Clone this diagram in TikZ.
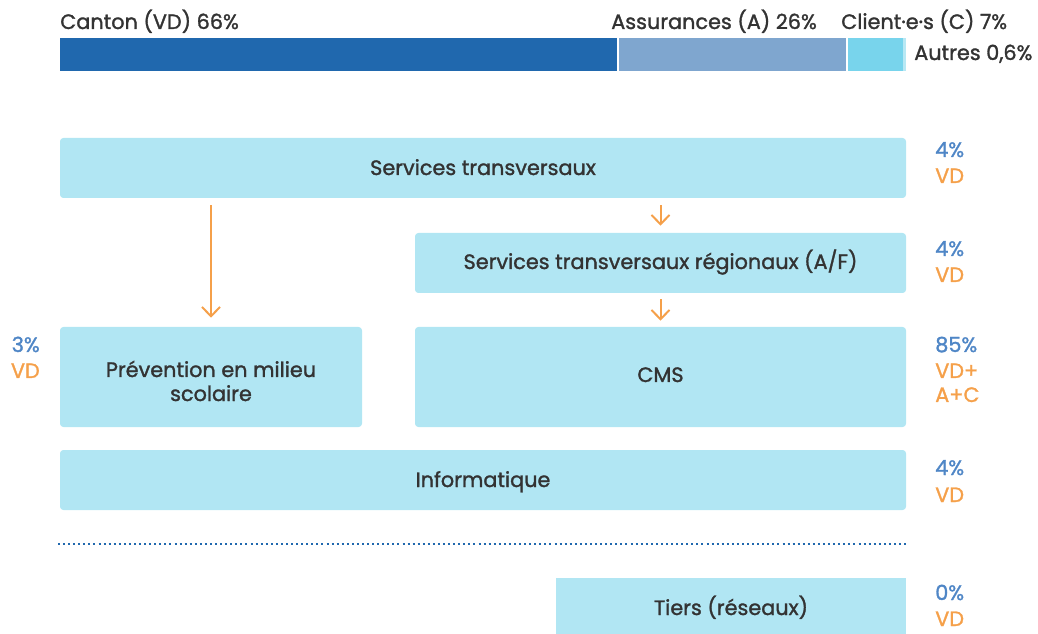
\documentclass[tikz,border=0pt]{standalone}
\usepackage{fontspec}
\setmainfont{Poppins}[RawFeature={embolden=1.4}]
\usetikzlibrary{arrows.meta}
\definecolor{darkblue}{HTML}{2068AE}
\definecolor{midblue}{HTML}{7FA6CF}
\definecolor{lightcyan}{HTML}{78D4EC}
\definecolor{othercyan}{HTML}{B8E8F4}
\definecolor{boxfill}{HTML}{B1E6F3}
\definecolor{txt}{HTML}{333333}
\definecolor{pctblue}{HTML}{4F86C6}
\definecolor{pctorange}{HTML}{F5A04A}
\begin{document}
\begin{tikzpicture}[x=0.75pt,y=-0.75pt,
  lbl/.style={text=txt, font=\fontsize{15.6}{18}\selectfont, inner sep=0pt},
  bx/.style 2 args={fill=boxfill, rounded corners=2.5pt, inner sep=0pt,
     minimum width=#1*0.75pt, minimum height=#2*0.75pt},
  btxt/.style={text=txt, font=\fontsize{15.6}{18}\selectfont, inner sep=0pt, anchor=base},
  pb/.style={text=pctblue, font=\fontsize{15.6}{18}\selectfont, inner sep=0pt, anchor=base west},
  po/.style={text=pctorange, font=\fontsize{15.6}{18}\selectfont, inner sep=0pt, anchor=base west},
  arr/.style={draw=pctorange, line width=1.5pt, -{Straight Barb[length=7pt,width=13.5pt,line width=1.5pt]}}
]
\useasboundingbox (0,0) rectangle (1038,634);
% stacked bar
\fill[darkblue] (60,38) rectangle (617,71);
\fill[midblue] (619,38) rectangle (846,71);
\fill[lightcyan] (848,38) rectangle (903,71);
\fill[othercyan] (903,38) rectangle (906,71);
\node[lbl, anchor=base west] (lcanton) at (60,29) {Canton (VD) 66\%};
\node[lbl, anchor=base west] (lass) at (611,29) {Assurances (A) 26\%};
\node[lbl, anchor=base west] (lcli) at (841,29) {Client·e·s (C) 7\%};
\node[lbl, anchor=base west] (laut) at (914,60) {Autres 0,6\%};
% boxes
\node[bx={846}{60}] (st) at (483,168) {};
\node[btxt] (tst) at (483,175) {Services transversaux};
\node[bx={491}{60}] (str) at (660.5,263) {};
\node[btxt] (tstr) at (660.5,269) {Services transversaux régionaux (A/F)};
\node[bx={302}{100}] (prev) at (211,377) {};
\node[btxt] (tprev1) at (211,377) {Prévention en milieu};
\node[btxt] (tprev2) at (211,401) {scolaire};
\node[bx={491}{100}] (cms) at (660.5,377) {};
\node[btxt] (tcms) at (660.5,382) {CMS};
\node[bx={846}{60}] (info) at (483,480) {};
\node[btxt] (tinfo) at (483,487) {Informatique};
\fill[boxfill] (556,578) rectangle (906,634);
\node[btxt] (tiers) at (731,615) {Tiers (réseaux)};
% arrows
\draw[arr, shorten <=5.25pt, shorten >=6.75pt] (st.south -| prev.north) -- (prev.north);
\draw[arr, shorten <=5.25pt, shorten >=5.25pt] (st.south -| str.north) -- (str.north);
\draw[arr, shorten <=4.5pt, shorten >=4.5pt] (str.south) -- (cms.north);
% dotted separator
\draw[darkblue, line width=1.6pt, dash pattern=on 1.5pt off 2.3pt] (58,544) -- (906,544);
% percentages
\node[pb] (p1a) at (935,157) {4\%};
\node[po] (p1b) at (935,183) {VD};
\node[pb] (p2a) at (935,256) {4\%};
\node[po] (p2b) at (935,282) {VD};
\node[pb] (p3a) at (935,352) {85\%};
\node[po] (p3b) at (935,378) {VD+};
\node[po] (p3c) at (935,402) {A+C};
\node[pb] (p4a) at (935,475) {4\%};
\node[po] (p4b) at (935,502) {VD};
\node[pb] (p5a) at (935,600) {0\%};
\node[po] (p5b) at (935,626) {VD};
\node[pb, anchor=base east] (p6a) at (40,352) {3\%};
\node[po, anchor=base east] (p6b) at (40,378) {VD};
\end{tikzpicture}
\end{document}
